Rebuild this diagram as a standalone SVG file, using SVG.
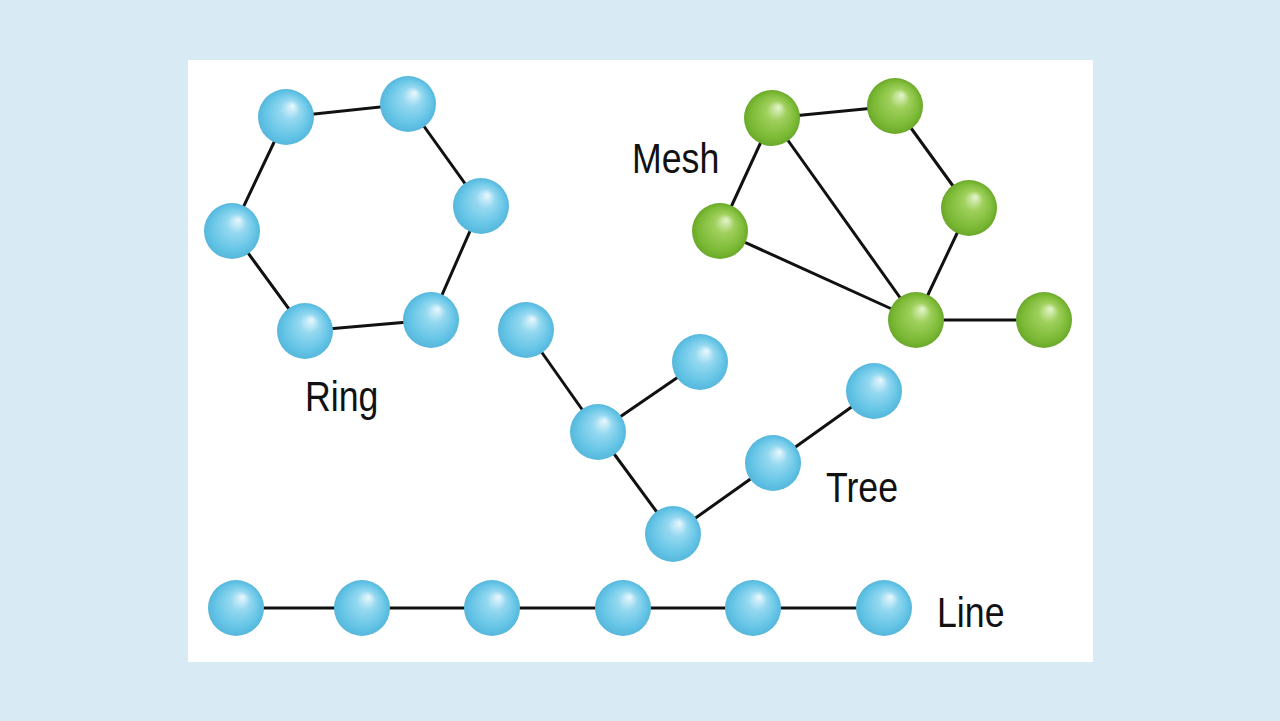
<svg xmlns="http://www.w3.org/2000/svg" width="1280" height="721" viewBox="0 0 1280 721">
<style>
.e{stroke:#111;stroke-width:3;fill:none}
.b{fill:url(#gb)}
.g{fill:url(#gg)}
.t{font-family:"Liberation Sans",Arial,sans-serif;font-size:42px;fill:#111}
</style>
<defs>
<radialGradient id="gb" cx="0.5" cy="0.5" r="0.5" fx="0.62" fy="0.3">
<stop offset="0" stop-color="#eaf8fd"/>
<stop offset="0.35" stop-color="#94d8f0"/>
<stop offset="0.8" stop-color="#64c4e6"/>
<stop offset="1" stop-color="#56b7dc"/>
</radialGradient>
<radialGradient id="gg" cx="0.5" cy="0.5" r="0.5" fx="0.62" fy="0.3">
<stop offset="0" stop-color="#e6f5cf"/>
<stop offset="0.35" stop-color="#9fd05c"/>
<stop offset="0.8" stop-color="#7cba36"/>
<stop offset="1" stop-color="#6aa82a"/>
</radialGradient>
</defs>
<rect width="1280" height="721" fill="#d8eaf4"/>
<rect x="188" y="60" width="905" height="602" fill="#ffffff"/>
<g id="connectors">
<polyline class="e" points="286,117 408,104 481,206 431,320 305,331 232,231 286,117"/>
<line class="e" x1="772" y1="118" x2="895" y2="106"/>
<line class="e" x1="895" y1="106" x2="969" y2="208"/>
<line class="e" x1="969" y1="208" x2="916" y2="320"/>
<line class="e" x1="772" y1="118" x2="720" y2="231"/>
<line class="e" x1="772" y1="118" x2="916" y2="320"/>
<line class="e" x1="720" y1="231" x2="916" y2="320"/>
<line class="e" x1="916" y1="320" x2="1044" y2="320"/>
<line class="e" x1="526" y1="330" x2="598" y2="432"/>
<line class="e" x1="598" y1="432" x2="700" y2="362"/>
<line class="e" x1="598" y1="432" x2="673" y2="534"/>
<line class="e" x1="673" y1="534" x2="773" y2="463"/>
<line class="e" x1="773" y1="463" x2="874" y2="391"/>
<line class="e" x1="236" y1="608" x2="884" y2="608"/>
</g>
<g id="ring">
<circle class="b" cx="286" cy="117" r="28"/>
<circle class="b" cx="408" cy="104" r="28"/>
<circle class="b" cx="481" cy="206" r="28"/>
<circle class="b" cx="431" cy="320" r="28"/>
<circle class="b" cx="305" cy="331" r="28"/>
<circle class="b" cx="232" cy="231" r="28"/>
<text class="t" transform="translate(305,411) scale(0.85,1)">Ring</text>
</g>
<g id="mesh">
<circle class="g" cx="772" cy="118" r="28"/>
<circle class="g" cx="895" cy="106" r="28"/>
<circle class="g" cx="969" cy="208" r="28"/>
<circle class="g" cx="720" cy="231" r="28"/>
<circle class="g" cx="916" cy="320" r="28"/>
<circle class="g" cx="1044" cy="320" r="28"/>
<text class="t" transform="translate(632,173) scale(0.85,1)">Mesh</text>
</g>
<g id="tree">
<circle class="b" cx="526" cy="330" r="28"/>
<circle class="b" cx="700" cy="362" r="28"/>
<circle class="b" cx="598" cy="432" r="28"/>
<circle class="b" cx="673" cy="534" r="28"/>
<circle class="b" cx="773" cy="463" r="28"/>
<circle class="b" cx="874" cy="391" r="28"/>
<text class="t" transform="translate(826,502) scale(0.85,1)">Tree</text>
</g>
<g id="line">
<circle class="b" cx="236" cy="608" r="28"/>
<circle class="b" cx="362" cy="608" r="28"/>
<circle class="b" cx="492" cy="608" r="28"/>
<circle class="b" cx="623" cy="608" r="28"/>
<circle class="b" cx="753" cy="608" r="28"/>
<circle class="b" cx="884" cy="608" r="28"/>
<text class="t" transform="translate(937,627) scale(0.85,1)">Line</text>
</g>
</svg>
